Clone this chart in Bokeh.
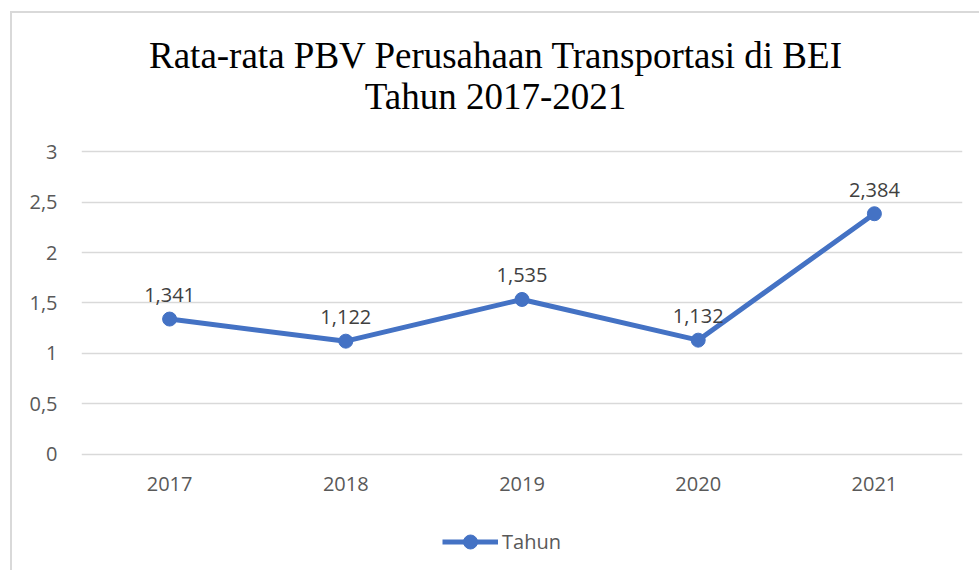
from bokeh.plotting import figure
from bokeh.layouts import column
from bokeh.models import (Range1d, Legend, LegendItem, ColumnDataSource, Div,
                          FixedTicker, CustomJSTickFormatter)
from bokeh.core.properties import value
from bokeh.embed import file_html
from bokeh.resources import INLINE

# ---- data ----
years = ["2017", "2018", "2019", "2020", "2021"]
pbv = [1.341, 1.122, 1.535, 1.132, 2.384]
point_labels = ["1,341", "1,122", "1,535", "1,132", "2,384"]
y_ticks = [0, 0.5, 1, 1.5, 2, 2.5, 3]
title_line1 = "Rata-rata PBV Perusahaan Transportasi di BEI"
title_line2 = "Tahun 2017-2021"
series_name = "Tahun"

BLUE = "#4472C4"
GRID = "#d9d9d9"
AXIS_TXT = "#595959"
LABEL_TXT = "#404040"
FONT = "Open Sans"
W = 967

src = ColumnDataSource(dict(year=years, pbv=pbv, label=point_labels))

# ---- title ----
title_div = Div(
    text=(f'<div style="font-family:\'Liberation Serif\';font-size:37px;line-height:41px;'
          f'color:#000;text-align:center;padding-top:22px;padding-left:7px;width:{W-7}px;">'
          f'{title_line1}<br>{title_line2}</div>'),
    width=W, height=112, margin=0)

# ---- main chart ----
p = figure(x_range=years, y_range=Range1d(-0.03, 3.02), width=W, height=387,
           output_backend="svg", toolbar_location=None, margin=0,
           min_border_left=69, min_border_right=17, min_border_top=24, min_border_bottom=55)
p.outline_line_color = None
p.background_fill_color = "white"
p.border_fill_color = "white"

for ax in (p.xaxis[0], p.yaxis[0]):
    ax.axis_line_color = None
    ax.major_tick_line_color = None
    ax.minor_tick_line_color = None
    ax.major_label_text_font = FONT
    ax.major_label_text_font_size = "20px"
    ax.major_label_text_color = AXIS_TXT
p.yaxis[0].ticker = FixedTicker(ticks=y_ticks)
p.yaxis[0].formatter = CustomJSTickFormatter(code="return tick.toString().replace('.', ',');")
p.yaxis[0].major_label_standoff = 18
p.xaxis[0].major_label_standoff = 13

p.xgrid.grid_line_color = None
p.ygrid.grid_line_color = GRID
p.ygrid.grid_line_width = 1.5

p.line(x="year", y="pbv", source=src, line_color=BLUE, line_width=5)
p.scatter(x="year", y="pbv", source=src, size=14, fill_color=BLUE, line_color=BLUE)
p.text(x="year", y="pbv", text="label", source=src, y_offset=-24,
       text_align="center", text_baseline="alphabetic",
       text_font=value(FONT), text_font_size="20px", text_color=LABEL_TXT)

# ---- legend strip ----
lg = figure(x_range=years, y_range=Range1d(10, 11), width=W, height=58,
            output_backend="svg", toolbar_location=None, min_border=0, margin=0,
            x_axis_location=None, y_axis_location=None)
lg.grid.visible = False
lg.outline_line_color = None
lg.background_fill_color = "white"
lg.border_fill_color = "white"
ln2 = lg.line(x="year", y="pbv", source=src, line_color=BLUE, line_width=5)
sc2 = lg.scatter(x="year", y="pbv", source=src, size=14, fill_color=BLUE, line_color=BLUE)
legend = Legend(items=[LegendItem(label=series_name, renderers=[ln2, sc2])],
                orientation="horizontal", location=(361, 11),
                border_line_color=None, background_fill_alpha=0,
                glyph_width=56, glyph_height=35, label_standoff=4,
                label_text_font=FONT, label_text_font_size="20px",
                label_text_color=AXIS_TXT, padding=0, margin=0)
lg.add_layout(legend, "center")

layout = column(title_div, p, lg, spacing=0)
layout.styles = {"margin-left": "10px", "margin-top": "11px",
                 "border-left": "2px solid #d9d9d9", "border-top": "2px solid #d9d9d9"}

open("out.html", "w").write(file_html(layout, INLINE))
